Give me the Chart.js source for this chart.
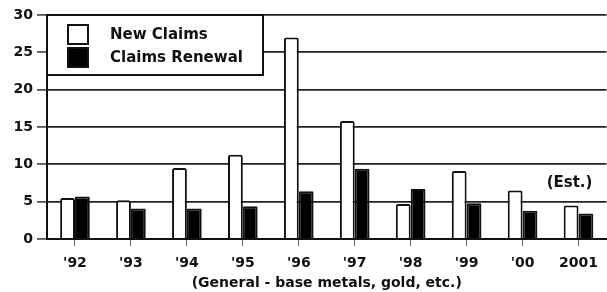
<!DOCTYPE html>
<html>
<head>
<meta charset="utf-8">
<script src="https://cdn.jsdelivr.net/npm/chart.js@4.4.1/dist/chart.umd.min.js"></script>
<style>
    html, body { margin: 0; padding: 0; background: #fff; }
    #wrap { width: 607px; height: 292px; position: relative; }
</style>
</head>
<body>
<div id="wrap"><canvas id="claimsChart"></canvas></div>
<script>
// Chart data
const years = ["'92", "'93", "'94", "'95", "'96", "'97", "'98", "'99", "'00", "2001"];
const newClaims = [5.5, 5.2, 9.5, 11.3, 27.0, 15.8, 4.7, 9.1, 6.5, 4.5];
const claimsRenewal = [5.7, 4.1, 4.1, 4.4, 6.4, 9.4, 6.7, 4.8, 3.8, 3.4];
const yTicks = [0, 5, 10, 15, 20, 25, 30];

const FONT = 'DejaVu Sans';

// Boxed legend in the top-left corner of the plot
const boxLegend = {
    id: 'boxLegend',
    afterDraw(chart) {
        const ctx = chart.ctx;
        const area = chart.chartArea;
        const x = area.left, y = area.top;
        const w = 216, h = 60;
        ctx.save();
        ctx.fillStyle = '#fff';
        ctx.fillRect(x, y, w, h);
        ctx.strokeStyle = '#111';
        ctx.lineWidth = 2;
        ctx.strokeRect(x, y, w, h);

        ctx.font = 'bold 15px "' + FONT + '"';
        ctx.textBaseline = 'middle';
        chart.data.datasets.forEach(function (ds, i) {
            const rowY = y + 19 + i * 23;
            ctx.fillStyle = ds.backgroundColor;
            ctx.fillRect(x + 21, rowY - 9, 20, 19);
            ctx.strokeStyle = '#111';
            ctx.lineWidth = 2;
            ctx.strokeRect(x + 21, rowY - 9, 20, 19);
            ctx.fillStyle = '#111';
            ctx.fillText(ds.label, x + 63, rowY + 1);
        });
        ctx.restore();
    }
};

// "(Est.)" note above the last year
const estNote = {
    id: 'estNote',
    afterDraw(chart) {
        const ctx = chart.ctx;
        const xs = chart.scales.x, ys = chart.scales.y;
        ctx.save();
        ctx.font = 'bold 15px "' + FONT + '"';
        ctx.fillStyle = '#111';
        ctx.textAlign = 'center';
        ctx.textBaseline = 'middle';
        ctx.fillText('(Est.)', xs.getPixelForValue(years.length - 1) - 9, ys.getPixelForValue(7.5));
        ctx.restore();
    }
};

new Chart(document.getElementById('claimsChart').getContext('2d'), {
    type: 'bar',
    data: {
        labels: years,
        datasets: [{
            label: 'New Claims',
            data: newClaims,
            backgroundColor: '#ffffff',
            borderColor: '#111',
            borderWidth: 2,
            borderRadius: 2,
            categoryPercentage: 0.53,
            barPercentage: 1.0
        }, {
            label: 'Claims Renewal',
            data: claimsRenewal,
            backgroundColor: '#000000',
            borderColor: '#111',
            borderWidth: 2,
            borderRadius: 1,
            categoryPercentage: 0.53,
            barPercentage: 1.0
        }]
    },
    options: {
        maintainAspectRatio: false,
        responsive: true,
        animation: false,
        layout: {
            padding: { top: 15, right: 0, left: 0, bottom: 0 }
        },
        plugins: {
            legend: { display: false },
            tooltip: { enabled: false }
        },
        scales: {
            y: {
                min: 0,
                max: 30,
                afterBuildTicks: function (scale) {
                    scale.ticks = yTicks.map(function (v) { return { value: v }; });
                },
                afterFit: function (scale) { scale.width = 47; },
                ticks: {
                    color: '#111',
                    padding: 4,
                    font: { family: FONT, size: 14, weight: 'bold' }
                },
                grid: {
                    color: '#222',
                    lineWidth: 1.8,
                    tickLength: 10,
                    tickColor: '#555'
                },
                border: { color: '#111', width: 2 }
            },
            x: {
                offset: true,
                afterFit: function (scale) { scale.height = 53; },
                ticks: {
                    color: '#111',
                    padding: 9,
                    font: { family: FONT, size: 14, weight: 'bold' }
                },
                grid: {
                    display: true,
                    drawOnChartArea: false,
                    offset: false,
                    tickLength: 7,
                    tickColor: '#666'
                },
                border: { color: '#111', width: 2 },
                title: {
                    display: true,
                    text: '(General - base metals, gold, etc.)',
                    color: '#111',
                    padding: { top: 0, bottom: 0 },
                    font: { family: FONT, size: 14, weight: 'bold' }
                }
            }
        }
    },
    plugins: [boxLegend, estNote]
});
</script>
</body>
</html>
